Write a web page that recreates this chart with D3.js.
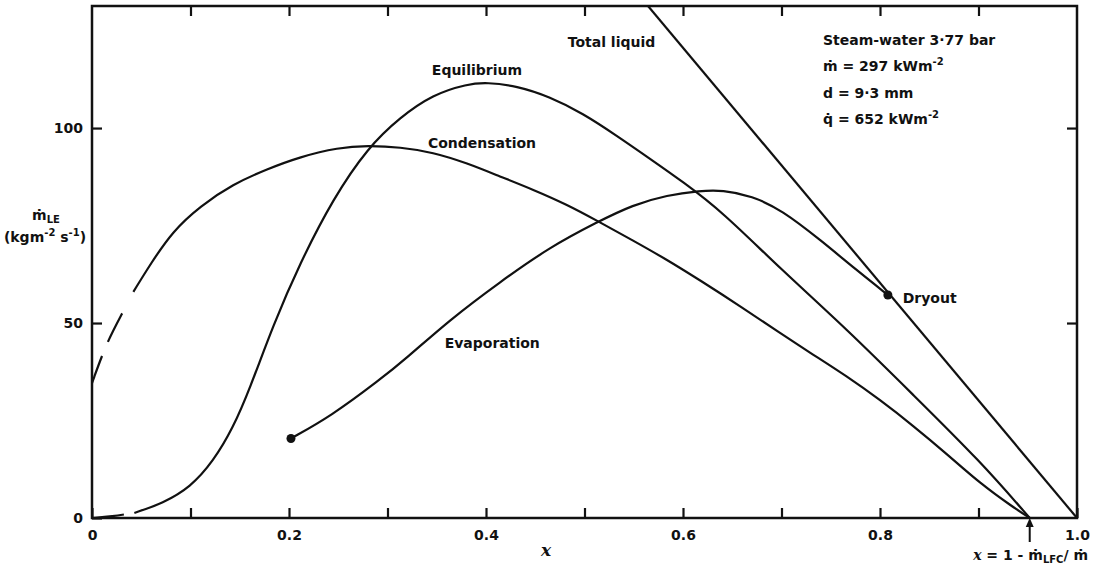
<!DOCTYPE html>
<html>
<head>
<meta charset="utf-8">
<script src="https://cdn.jsdelivr.net/npm/d3@7"></script>
<style>
  body { margin: 0; background: #fff; }
  svg text { font-family: "DejaVu Sans", sans-serif; font-weight: bold; fill: #111; }
</style>
</head>
<body>
<script>
// values: [x, mLE (kg m-2 s-1)]
const condensationDashed = [[0, 34.6], [0.015, 45.1], [0.031, 52.6], [0.042, 58]];
const condensation = [[0.042, 58], [0.059, 65], [0.082, 73.6], [0.11, 80], [0.143, 85.6], [0.178, 89.5],
  [0.211, 92.6], [0.25, 95], [0.28, 95.5], [0.313, 95.1], [0.346, 93.8], [0.381, 91], [0.414, 87.6],
  [0.448, 84.2], [0.482, 80.4], [0.513, 76.2], [0.549, 71.2], [0.584, 66.2], [0.617, 61], [0.66, 54],
  [0.698, 47.5], [0.732, 41.9], [0.766, 36.4], [0.8, 30.3], [0.834, 23.6], [0.868, 16.4], [0.902, 8.8],
  [0.935, 2.8], [0.952, 0]];
const equilibriumDashed = [[0, 0], [0.02, 0.4], [0.043, 1.3]];
const equilibrium = [[0.043, 1.3], [0.072, 3.8], [0.1, 7.9], [0.123, 14.5], [0.143, 23], [0.16, 33],
  [0.184, 49.5], [0.211, 65.3], [0.245, 82], [0.28, 95], [0.313, 102.8], [0.346, 108.6], [0.381, 111.3],
  [0.401, 111.7], [0.431, 110.8], [0.465, 108], [0.498, 103.8], [0.533, 98], [0.566, 92.2], [0.6, 86.2],
  [0.64, 78.5], [0.698, 64.1], [0.766, 48.5], [0.834, 31.5], [0.902, 14.5], [0.952, 0]];
const evaporation = [[0.202, 20.4], [0.242, 26], [0.292, 35.4], [0.319, 40.9], [0.363, 50.8], [0.414, 60.5],
  [0.465, 69.5], [0.513, 75.9], [0.549, 80.3], [0.584, 82.8], [0.617, 83.9], [0.64, 84.1], [0.67, 82.6],
  [0.7, 79], [0.74, 71.2], [0.776, 63.6], [0.808, 57.2]];
const totalLiquid = [[0.5645, 131.3], [1.0, 0]];
const dots = [[0.202, 20.4], [0.808, 57.2]];
const xCross = 0.952;

const xTickValues = [0, 0.1, 0.2, 0.3, 0.4, 0.5, 0.6, 0.7, 0.8, 0.9, 1.0];
const xTickLabels = ["0", "", "0.2", "", "0.4", "", "0.6", "", "0.8", "", "1.0"];
const yTickValues = [0, 50, 100];
const yTickLabels = ["0", "50", "100"];

const curveLabels = [
  { text: "Total liquid", x: 0.483, y: 122 },
  { text: "Equilibrium", x: 0.345, y: 114.9 },
  { text: "Condensation", x: 0.341, y: 96.2 },
  { text: "Evaporation", x: 0.358, y: 44.9 },
  { text: "Dryout", x: 0.823, y: 56.4 }
];

var width = 1095,
  height = 566,
  plotLeft = 92,
  plotRight = 1077,
  plotTop = 6,
  plotBottom = 518;

var svg = d3
  .select("body")
  .append("svg")
  .attr("width", width)
  .attr("height", height);

var xScale = d3.scaleLinear().domain([0, 1]).range([plotLeft, plotRight]);
var yScale = d3.scaleLinear().domain([0, 131.3]).range([plotBottom, plotTop]);

svg.append("clipPath").attr("id", "plot")
  .append("rect")
  .attr("x", plotLeft).attr("y", plotTop)
  .attr("width", plotRight - plotLeft).attr("height", plotBottom - plotTop);

function styleAxis(g) {
  g.select(".domain").remove();
  g.selectAll(".tick line").attr("stroke", "#111").attr("stroke-width", 2.2);
  g.selectAll("text").attr("font-size", 14).attr("fill", "#111");
}

svg.append("g")
  .attr("transform", `translate(0, ${plotBottom})`)
  .call(d3.axisBottom(xScale).tickValues(xTickValues).tickSize(-10).tickPadding(12)
    .tickFormat((d, i) => xTickLabels[i]))
  .call(styleAxis);

svg.append("g")
  .attr("transform", `translate(0, ${plotTop})`)
  .call(d3.axisTop(xScale).tickValues(xTickValues.slice(1, -1)).tickSize(-10).tickFormat(""))
  .call(styleAxis);

svg.append("g")
  .attr("transform", `translate(${plotLeft}, 0)`)
  .call(d3.axisLeft(yScale).tickValues(yTickValues).tickSize(-10).tickPadding(9)
    .tickFormat((d, i) => yTickLabels[i]))
  .call(styleAxis);

svg.append("g")
  .attr("transform", `translate(${plotRight}, 0)`)
  .call(d3.axisRight(yScale).tickValues(yTickValues.slice(1)).tickSize(-10).tickFormat(""))
  .call(styleAxis);

svg.append("rect")
  .attr("x", plotLeft).attr("y", plotTop)
  .attr("width", plotRight - plotLeft).attr("height", plotBottom - plotTop)
  .attr("fill", "none")
  .attr("stroke", "#111")
  .attr("stroke-width", 2.5);

var line = d3.line()
  .x((d) => xScale(d[0]))
  .y((d) => yScale(d[1]))
  .curve(d3.curveBasis);

var curves = svg.append("g").attr("clip-path", "url(#plot)");

[
  [condensationDashed, "29,15,32,40"],
  [condensation, null],
  [equilibriumDashed, "32,20"],
  [equilibrium, null],
  [evaporation, null],
  [totalLiquid, null]
].forEach(([data, dash]) => {
  curves.append("path")
    .datum(data)
    .attr("d", line)
    .attr("fill", "none")
    .attr("stroke", "#111")
    .attr("stroke-width", 2.2)
    .attr("stroke-dasharray", dash);
});

svg.selectAll(".dot")
  .data(dots)
  .enter()
  .append("circle")
  .attr("class", "dot")
  .attr("cx", (d) => xScale(d[0]))
  .attr("cy", (d) => yScale(d[1]))
  .attr("r", 4.5)
  .attr("fill", "#111");

svg.selectAll(".curve-label")
  .data(curveLabels)
  .enter()
  .append("text")
  .attr("class", "curve-label")
  .attr("x", (d) => xScale(d.x))
  .attr("y", (d) => yScale(d.y))
  .attr("dominant-baseline", "central")
  .attr("font-size", 14)
  .text((d) => d.text);

// arrow marking x = 1 - mLFC/m
var ax = xScale(xCross);
svg.append("line")
  .attr("x1", ax).attr("x2", ax)
  .attr("y1", plotBottom + 24).attr("y2", plotBottom + 4)
  .attr("stroke", "#111").attr("stroke-width", 2);
svg.append("path")
  .attr("d", `M${ax},${plotBottom} L${ax - 4},${plotBottom + 9} L${ax + 4},${plotBottom + 9} Z`)
  .attr("fill", "#111");

// info block
var info = svg.append("g").attr("font-size", 14);
info.append("text").attr("x", 823).attr("y", 45).text("Steam-water 3·77 bar");
var t2 = info.append("text").attr("x", 823).attr("y", 71);
t2.append("tspan").text("ṁ = 297 kWm");
t2.append("tspan").attr("dy", -6).attr("font-size", 10).text("-2");
info.append("text").attr("x", 823).attr("y", 98).text("d = 9·3 mm");
var t4 = info.append("text").attr("x", 823).attr("y", 124);
t4.append("tspan").text("q̇ = 652 kWm");
t4.append("tspan").attr("dy", -6).attr("font-size", 10).text("-2");

// y label
var yl1 = svg.append("text").attr("x", 46).attr("y", 220).attr("text-anchor", "middle").attr("font-size", 14);
yl1.append("tspan").text("ṁ");
yl1.append("tspan").attr("dy", 3).attr("font-size", 10).text("LE");
var yl2 = svg.append("text").attr("x", 45).attr("y", 242).attr("text-anchor", "middle").attr("font-size", 14);
yl2.append("tspan").text("(kgm");
yl2.append("tspan").attr("dy", -6).attr("font-size", 10).text("-2");
yl2.append("tspan").attr("dy", 6).text(" s");
yl2.append("tspan").attr("dy", -6).attr("font-size", 10).text("-1");
yl2.append("tspan").attr("dy", 6).text(")");

// x label
svg.append("text")
  .attr("x", 546).attr("y", 556)
  .attr("text-anchor", "middle")
  .attr("font-size", 17)
  .style("font-family", "DejaVu Serif")
  .style("font-style", "italic")
  .text("x");

var xl = svg.append("text").attr("x", 1088).attr("y", 560).attr("text-anchor", "end").attr("font-size", 14);
xl.append("tspan").style("font-family", "DejaVu Serif").style("font-style", "italic").text("x");
xl.append("tspan").text(" = 1 - ṁ");
xl.append("tspan").attr("dy", 3).attr("font-size", 10).text("LFC");
xl.append("tspan").attr("dy", -3).text("/ ṁ");
</script>
</body>
</html>
